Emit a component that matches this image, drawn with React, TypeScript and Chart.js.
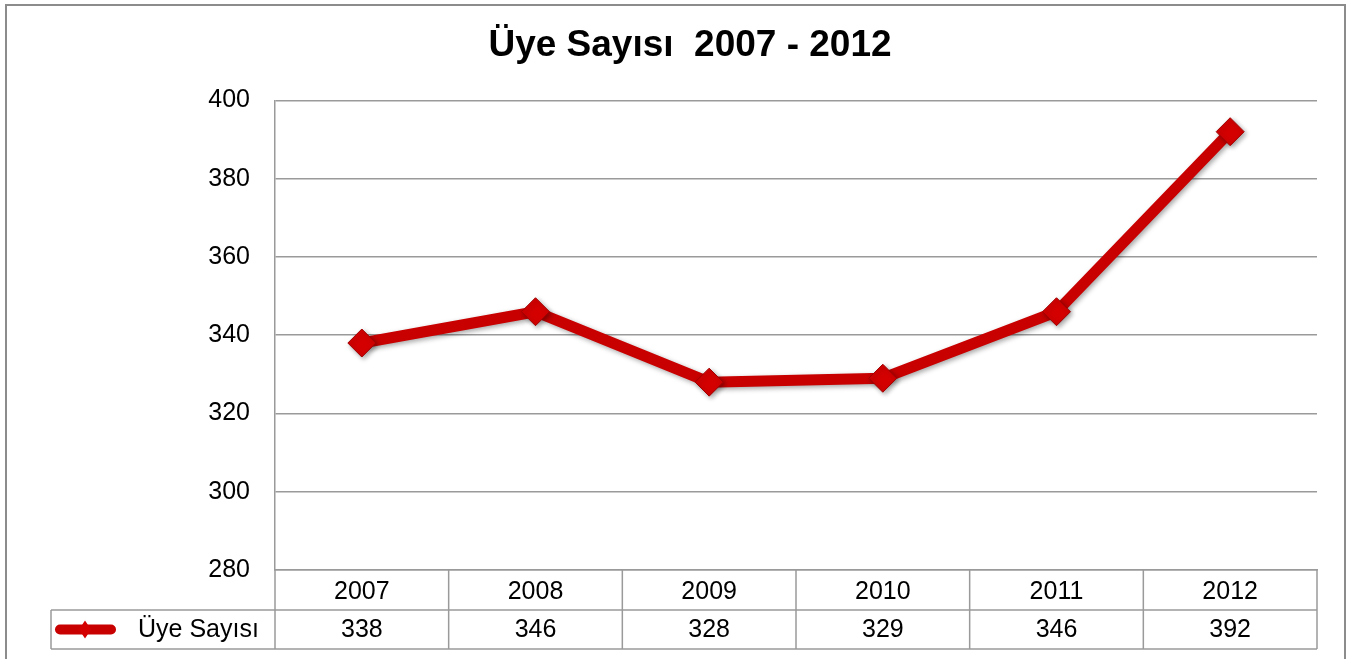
import React, { useEffect, useRef } from "react";
import { Chart, registerables } from "chart.js";

Chart.register(...registerables);

const TITLE = "Üye Sayısı  2007 - 2012";
const SERIES_LABEL = "Üye Sayısı";
const YEARS = ["2007", "2008", "2009", "2010", "2011", "2012"];
const MEMBERS = [338, 346, 328, 329, 346, 392];
const Y_MIN = 280;
const Y_MAX = 400;
const Y_STEP = 20;

const FONT = "'Liberation Sans', Arial, sans-serif";
const LINE_RED = "#C80000";
const GRID = "#9a9a9a";

const shadowPlugin = {
  id: "shadowPlugin",
  beforeDatasetsDraw(chart: any) {
    const ctx = chart.ctx;
    ctx.save();
    ctx.shadowColor = "rgba(0,0,0,0.35)";
    ctx.shadowBlur = 5;
    ctx.shadowOffsetX = 2;
    ctx.shadowOffsetY = 2;
  },
  afterDatasetsDraw(chart: any) {
    chart.ctx.restore();
  },
};

const tablePlugin = {
  id: "tablePlugin",
  afterDraw(chart: any) {
    const ctx = chart.ctx;
    const xs = chart.scales.x;
    const area = chart.chartArea;
    const n = YEARS.length;
    const step = (area.right - area.left) / n;
    const top = area.bottom;
    const mid = xs.bottom - 39;
    const bottom = xs.bottom;
    const tableLeft = 51;
    ctx.save();
    ctx.strokeStyle = GRID;
    ctx.lineWidth = 1.5;
    ctx.beginPath();
    ctx.moveTo(tableLeft, mid);
    ctx.lineTo(area.right, mid);
    ctx.moveTo(tableLeft, bottom);
    ctx.lineTo(area.right, bottom);
    ctx.moveTo(tableLeft, mid);
    ctx.lineTo(tableLeft, bottom);
    for (let i = 0; i <= n; i++) {
      const x = area.left + i * step;
      ctx.moveTo(x, top);
      ctx.lineTo(x, bottom);
    }
    ctx.stroke();

    // values row
    const ds = chart.data.datasets[0];
    ctx.fillStyle = "#000";
    ctx.font = `25px ${FONT}`;
    ctx.textAlign = "center";
    ctx.textBaseline = "middle";
    const rowY = (mid + bottom) / 2 + 1;
    ds.data.forEach((v: number, i: number) => {
      ctx.fillText(String(v), xs.getPixelForValue(i), rowY);
    });

    // legend key
    ctx.strokeStyle = ds.borderColor;
    ctx.lineWidth = 10;
    ctx.lineCap = "round";
    ctx.beginPath();
    ctx.moveTo(60, rowY - 1);
    ctx.lineTo(111, rowY - 1);
    ctx.stroke();
    ctx.fillStyle = ds.pointBackgroundColor;
    ctx.beginPath();
    ctx.moveTo(85, rowY - 10);
    ctx.lineTo(91, rowY - 1);
    ctx.lineTo(85, rowY + 8);
    ctx.lineTo(79, rowY - 1);
    ctx.closePath();
    ctx.fill();
    ctx.fillStyle = "#000";
    ctx.textAlign = "left";
    ctx.fillText(ds.label, 138, rowY);

    // outer frame
    ctx.strokeStyle = "#8c8c8c";
    ctx.lineWidth = 2;
    ctx.lineCap = "butt";
    ctx.strokeRect(6, 5, 1339, 700);
    ctx.restore();
  },
};

export default function App() {
  const ref = useRef<HTMLCanvasElement | null>(null);
  useEffect(() => {
    if (!ref.current) return;
    const chart = new Chart(ref.current, {
      type: "line",
      data: {
        labels: YEARS,
        datasets: [
          {
            label: SERIES_LABEL,
            data: MEMBERS,
            borderColor: LINE_RED,
            borderWidth: 11,
            tension: 0,
            pointStyle: "rectRot",
            pointRadius: 14,
            pointHoverRadius: 14,
            pointBackgroundColor: "#D40000",
            pointBorderColor: "#A00000",
            pointBorderWidth: 1,
          },
        ],
      },
      options: {
        responsive: false,
        animation: false,
        layout: { padding: { left: 63, right: 35, top: 0, bottom: 10 } },
        plugins: {
          legend: { display: false },
          tooltip: { enabled: false },
          title: {
            display: true,
            text: TITLE,
            color: "#000",
            font: { family: FONT, size: 37, weight: "bold" },
            padding: { top: 24, bottom: 32 },
          },
        },
        scales: {
          x: {
            offset: true,
            grid: { display: false, drawTicks: false },
            border: { display: true, color: GRID, width: 1.5 },
            ticks: {
              color: "#000",
              font: { family: FONT, size: 25 },
              padding: 7,
              maxRotation: 0,
            },
            afterFit(scale: any) {
              scale.height = 79;
            },
          },
          y: {
            min: Y_MIN,
            max: Y_MAX,
            grid: { color: GRID, lineWidth: 1.5, drawTicks: false },
            border: { display: true, color: GRID, width: 1.5 },
            ticks: {
              stepSize: Y_STEP,
              color: "#000",
              font: { family: FONT, size: 25 },
              padding: 25,
            },
            afterFit(scale: any) {
              scale.width = 212;
            },
          },
        },
      },
      plugins: [shadowPlugin, tablePlugin],
    });
    return () => chart.destroy();
  }, []);
  return (
    <div style={{ position: "absolute", left: 0, top: 0, width: 1352, height: 659, background: "#fff" }}>
      <canvas ref={ref} width={1352} height={659} />
    </div>
  );
}
